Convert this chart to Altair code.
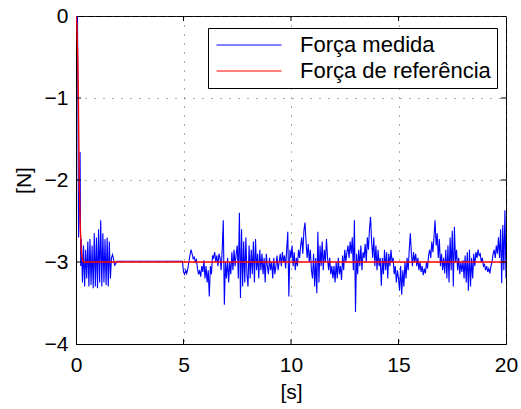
import altair as alt
import pandas as pd

# ---- data ----
# initial transient of the measured force (irregular start, then 0.05 s steps from 0.25 s to 2.00 s)
t_start = [0.0, 0.07, 0.12, 0.16, 0.19, 0.22]
v_start = [0.0, -0.02, -2.70, -2.20, -1.66, -3.05]
v_early = [-2.72, -3.25, -2.80, -3.30, -2.85, -3.20, -2.75, -3.30, -2.72, -3.28,
           -2.80, -3.32, -2.65, -3.30, -2.70, -3.32, -2.60, -3.25, -2.49, -3.30,
           -2.65, -3.25, -2.72, -3.28, -2.70, -3.30, -2.75, -3.20, -2.95, -2.91,
           -2.97, -3.04, -3.02, -2.99, -2.99, -2.99]
# plateau end
t_plateau = [4.95]
v_plateau = [-2.99]
# measured force from 5.00 s to 20.00 s, 0.05 s steps
v_late = [
    # 5
    -3.12, -3.15, -3.10, -3.14, -3.08, -3.00, -2.92, -2.85, -2.90, -2.96,
    -2.94, -3.00, -2.97, -3.08, -3.15, -3.10, -3.18, -3.05, -3.12, -2.98,
    # 6
    -3.20, -3.05, -3.25, -3.10, -3.42, -3.05, -3.15, -2.92, -2.95, -2.88,
    -3.00, -2.92, -3.05, -2.90, -2.95, -3.10, -2.85, -2.49, -3.52, -3.00,
    # 7
    -3.20, -2.95, -3.25, -3.00, -3.15, -2.88, -3.10, -2.85, -3.05, -2.90,
    -2.80, -3.20, -2.40, -3.44, -2.60, -3.30, -2.75, -3.25, -2.70, -3.15,
    # 8
    -3.30, -2.80, -3.20, -2.85, -3.15, -2.75, -3.25, -2.72, -3.10, -2.90,
    -3.20, -2.85, -3.10, -2.90, -3.15, -2.95, -3.25, -2.90, -3.05, -3.15,
    # 9
    -2.95, -3.10, -3.00, -3.20, -2.95, -3.15, -3.05, -2.92, -3.10, -3.00,
    -2.90, -3.05, -2.88, -3.00, -2.92, -3.08, -2.85, -2.63, -3.42, -2.85,
    # 10
    -2.95, -2.80, -3.05, -2.88, -3.10, -2.95, -3.05, -2.85, -2.95, -2.80,
    -2.70, -2.90, -2.62, -2.52, -2.75, -2.95, -2.78, -3.00, -2.85, -3.10,
    # 11
    -3.20, -2.90, -3.30, -2.95, -3.38, -2.63, -3.25, -2.80, -3.05, -2.75,
    -3.10, -2.85, -3.00, -2.72, -2.95, -3.10, -2.95, -3.15, -3.05, -3.20,
    # 12
    -3.05, -3.25, -3.00, -3.20, -2.95, -3.15, -3.05, -3.22, -2.92, -3.10,
    -2.85, -3.00, -2.88, -2.80, -2.95, -2.75, -2.90, -2.70, -3.10, -2.49,
    # 13
    -3.61, -2.90, -3.15, -2.85, -3.05, -2.80, -3.10, -2.88, -2.95, -2.78,
    -3.00, -2.70, -2.85, -2.60, -2.45, -2.75, -2.95, -2.70, -3.05, -2.80,
    # 14
    -3.10, -2.85, -3.05, -2.95, -3.29, -2.95, -3.15, -2.85, -3.10, -2.88,
    -3.20, -2.90, -3.05, -2.85, -3.00, -2.95, -3.15, -3.05, -3.25, -3.10,
    # 15
    -3.20, -3.35, -3.05, -3.40, -3.10, -3.30, -3.00, -3.20, -2.95, -3.10,
    -2.85, -2.65, -2.90, -3.05, -2.88, -3.00, -2.90, -3.05, -2.95, -3.10,
    # 16
    -3.00, -3.12, -3.05, -3.16, -3.08, -3.14, -3.00, -3.08, -2.92, -2.85,
    -2.95, -2.75, -2.88, -2.70, -2.49, -2.80, -2.65, -2.95, -2.72, -3.05,
    # 17
    -2.90, -3.10, -2.95, -3.14, -2.85, -3.20, -2.80, -3.25, -2.70, -3.10,
    -2.62, -3.30, -2.57, -3.00, -2.85, -3.10, -2.95, -3.15, -3.00, -3.12,
    # 18
    -2.98, -3.20, -2.92, -3.25, -2.88, -3.35, -2.85, -3.30, -2.95, -3.20,
    -2.90, -3.05, -2.88, -2.95, -2.85, -2.92, -2.90, -3.00, -2.95, -3.05,
    # 19
    -3.03, -3.10, -3.05, -3.12, -3.08, -3.14, -3.05, -3.00, -2.90, -2.85,
    -2.95, -2.80, -2.90, -2.70, -2.95, -2.60, -3.26, -2.55, -3.10, -2.37,
    # 20
    -3.20,
]

# reference force
ref_t = [0.0, 0.04, 0.08, 0.11, 0.15, 0.20, 0.25, 0.30, 0.35, 20.0]
ref_v = [0.0, -0.10, -0.50, -1.00, -2.00, -2.60, -2.88, -2.97, -3.00, -3.00]

x_ticks = [0, 5, 10, 15, 20]
y_ticks = [-4, -3, -2, -1, 0]
names = ["Força medida", "Força de referência"]
colors = ["#0000ff", "#ff0000"]

# ---- build tables ----
t_early = [round(0.25 + 0.05 * i, 2) for i in range(len(v_early))]
t_late = [round(5.0 + 0.05 * i, 2) for i in range(len(v_late))]
meas_t = t_start + t_early + t_plateau + t_late
meas_v = v_start + v_early + v_plateau + v_late

df_meas = pd.DataFrame({"t": meas_t, "v": meas_v, "s": names[0]})
df_ref = pd.DataFrame({"t": ref_t, "v": ref_v, "s": names[1]})

FONT = "Liberation Sans"
FS = 21

xs = alt.Scale(domain=[0, 20], nice=False, zero=False)
ys = alt.Scale(domain=[-4, 0], nice=False, zero=False)

x_enc = alt.X("t:Q", scale=xs,
              axis=alt.Axis(title="[s]", values=x_ticks, grid=True, tickSize=0,
                            format="d", labelPadding=10, titlePadding=6,
                            labelFlush=False))
y_enc = alt.Y("v:Q", scale=ys,
              axis=alt.Axis(title="[N]", values=y_ticks, grid=True, tickSize=0,
                            format="d", labelPadding=8, titlePadding=10,
                            labelFlush=False))
c_enc = alt.Color("s:N", scale=alt.Scale(domain=names, range=colors),
                  legend=alt.Legend(title=None, orient="none", legendX=132, legendY=12,
                                    symbolType="M-1.3,0L8.7,0", symbolSize=169,
                                    symbolStrokeWidth=1.1, labelFontSize=22,
                                    labelFont=FONT, labelColor="black",
                                    labelOffset=64, labelLimit=0,
                                    strokeColor="black", fillColor="white",
                                    padding=6, rowPadding=4, cornerRadius=0))

meas_line = alt.Chart(df_meas).mark_line(strokeWidth=1.1, clip=True).encode(
    x=x_enc, y=y_enc, color=c_enc, order="t:Q")
ref_line = alt.Chart(df_ref).mark_line(strokeWidth=1.4, clip=True).encode(
    x=x_enc, y=y_enc, color=c_enc, order="t:Q")

df_xt = pd.DataFrame({"t": x_ticks[1:-1]})
df_yt = pd.DataFrame({"v": y_ticks[1:-1]})
xt_bot = alt.Chart(df_xt).mark_rule(color="black", strokeWidth=1).encode(
    x=alt.X("t:Q", scale=xs), y=alt.value(328), y2=alt.value(323))
xt_top = alt.Chart(df_xt).mark_rule(color="black", strokeWidth=1).encode(
    x=alt.X("t:Q", scale=xs), y=alt.value(0), y2=alt.value(5))
yt_left = alt.Chart(df_yt).mark_rule(color="black", strokeWidth=1).encode(
    y=alt.Y("v:Q", scale=ys), x=alt.value(0), x2=alt.value(5))
yt_right = alt.Chart(df_yt).mark_rule(color="black", strokeWidth=1).encode(
    y=alt.Y("v:Q", scale=ys), x=alt.value(430), x2=alt.value(425))

chart = alt.layer(meas_line, ref_line, xt_bot, xt_top, yt_left, yt_right).properties(
    width=430, height=328,
    autosize=alt.AutoSizeParams(type="none"),
    padding={"left": 76, "top": 16, "right": 15, "bottom": 65},
    background="white",
).configure_view(
    stroke="black", strokeWidth=1,
).configure_axis(
    labelFont=FONT, labelFontSize=FS, labelColor="black",
    titleFont=FONT, titleFontSize=FS, titleFontWeight="normal", titleColor="black",
    domainColor="black", domainWidth=1,
    gridColor="#444444", gridDash=[1, 8], gridWidth=1, gridOpacity=0.9,
)

chart.save("out.html", embed_options={"renderer": "svg", "actions": False})
